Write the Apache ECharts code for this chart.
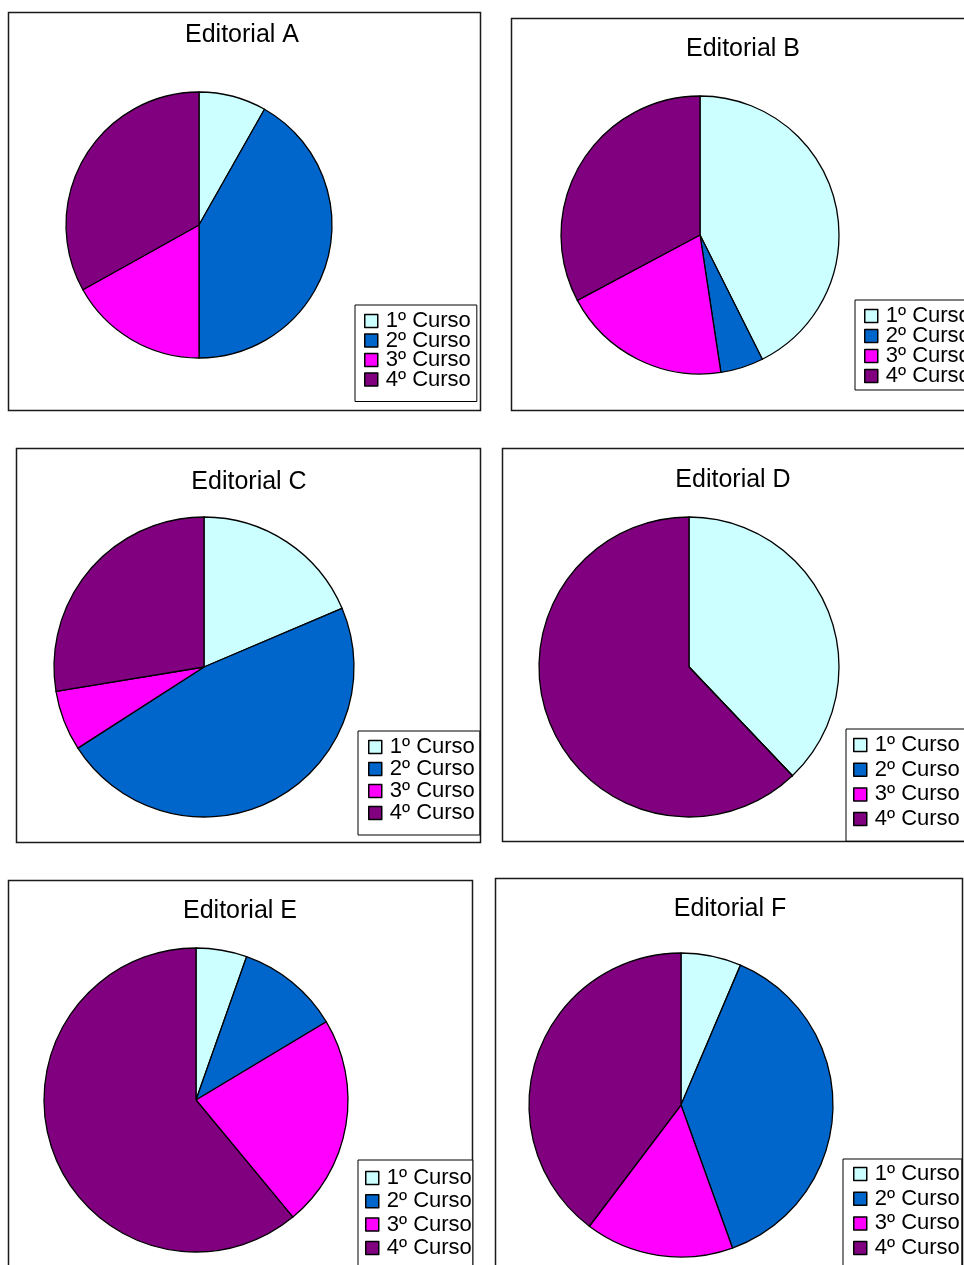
<!DOCTYPE html>
<html>
<head>
<meta charset="utf-8">
<title>Editoriales por curso</title>
<script src="https://cdn.jsdelivr.net/npm/echarts@6/dist/echarts.min.js"></script>
<style>
  html, body { margin: 0; padding: 0; background: #fff; }
  #chart { width: 964px; height: 1265px; }
</style>
</head>
<body>
<div id="chart"></div>
<script>
// Course categories shared by every pie
const cursos = ['1º Curso', '2º Curso', '3º Curso', '4º Curso'];

// Panel titles
const editoriales = ['Editorial A', 'Editorial B', 'Editorial C', 'Editorial D', 'Editorial E', 'Editorial F'];

// Share of each course per publisher (%), order: 1º, 2º, 3º, 4º
const editorialA = [8.2, 41.8, 16.9, 33.1];
const editorialB = [42.6, 5.0, 19.6, 32.8];
const editorialC = [18.6, 47.3, 6.5, 27.6];
const editorialD = [37.9, 0, 0, 62.1];
const editorialE = [5.4, 11.0, 22.6, 61.0];
const editorialF = [6.4, 38.1, 15.8, 39.7];

const valores = [editorialA, editorialB, editorialC, editorialD, editorialE, editorialF];

const colores = ['#CCFFFF', '#0066CC', '#FF00FF', '#800080'];
const FONT = '"Liberation Sans", Arial, sans-serif';

// Panel geometry: frame box, title centre/top, pie centre/radius, legend box
const panels = [
  { frame: [8, 12, 480, 410],     title: [242, 23],  pie: [199, 225, 133],  leg: { x: 355, y: 305,  pad: [5, 6, 11, 9],  gap: -2.5 } },
  { frame: [511, 18, 990, 410],   title: [743, 37],  pie: [700, 235, 139],  leg: { x: 855, y: 300,  pad: [5, 6, 3, 9],   gap: -2 } },
  { frame: [16, 448, 480, 842],   title: [249, 470], pie: [204, 667, 150],  leg: { x: 358, y: 731,  pad: [5, 5, 11, 10], gap: 0 } },
  { frame: [502, 448, 990, 841],  title: [733, 468], pie: [689, 667, 150],  leg: { x: 846, y: 729,  pad: [5, 6, 11, 7],  gap: 2.7 } },
  { frame: [8, 880, 472, 1290],   title: [240, 899], pie: [196, 1100, 152], leg: { x: 358, y: 1160, pad: [7, 1, 10, 7],  gap: 1.3 } },
  { frame: [495, 878, 962, 1290], title: [730, 897], pie: [681, 1105, 152], leg: { x: 843, y: 1159, pad: [4, 2, 10, 10], gap: 2.7 } }
];

const chart = echarts.init(document.getElementById('chart'), null, { renderer: 'canvas' });

const option = {
  animation: false,
  color: colores,
  graphic: panels.map(p => ({
    type: 'rect',
    z: -10,
    silent: true,
    shape: { x: p.frame[0] + 0.5, y: p.frame[1] + 0.5, width: p.frame[2] - p.frame[0], height: p.frame[3] - p.frame[1] },
    style: { fill: '#fff', stroke: '#1a1a1a', lineWidth: 1.5 }
  })),
  title: panels.map((p, i) => ({
    text: editoriales[i],
    left: p.title[0],
    top: p.title[1],
    textAlign: 'center',
    padding: 0,
    textStyle: { fontFamily: FONT, fontSize: 25, fontWeight: 'normal', color: '#000' }
  })),
  legend: panels.map(p => ({
    data: cursos,
    orient: 'vertical',
    left: p.leg.x,
    top: p.leg.y,
    height: 200,
    padding: p.leg.pad,
    itemGap: p.leg.gap,
    itemWidth: 13,
    itemHeight: 13,
    icon: 'rect',
    selectedMode: false,
    backgroundColor: '#fff',
    borderColor: '#000',
    borderWidth: 1,
    borderRadius: 0,
    itemStyle: { borderColor: '#000', borderWidth: 1.5 },
    textStyle: { fontFamily: FONT, fontSize: 22, color: '#000', padding: [0, 0, 0, 3] }
  })),
  series: panels.map((p, i) => ({
    type: 'pie',
    name: editoriales[i],
    center: [p.pie[0], p.pie[1]],
    radius: p.pie[2],
    startAngle: 90,
    clockwise: true,
    avoidLabelOverlap: false,
    silent: true,
    label: { show: false },
    labelLine: { show: false },
    emphasis: { disabled: true },
    itemStyle: { borderColor: '#000', borderWidth: 1.3 },
    data: cursos.map((c, k) => ({ name: c, value: valores[i][k] }))
  }))
};

chart.setOption(option);
</script>
</body>
</html>
